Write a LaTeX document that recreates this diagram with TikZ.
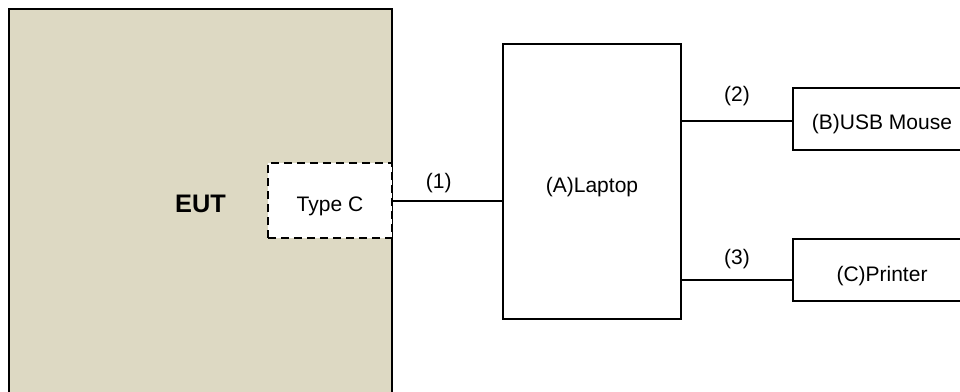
\documentclass[tikz,border=0pt]{standalone}
\usepackage{fontspec}
\setmainfont{Liberation Sans}
\usetikzlibrary{positioning}

\definecolor{eutfill}{HTML}{DDD9C3}

\begin{document}
\begin{tikzpicture}
[
    x = 0.75pt, y = -0.75pt,
    font = \fontsize{15.75}{19}\selectfont,
    box/.style      = {rectangle,
                       draw,
                       line width=1.5pt,
                       inner sep=0pt,
                       text height=16.5pt,
                       text depth=0pt},
    eutstyle/.style = {box,
                       fill=eutfill,
                       text height=, text depth=,
                       minimum width=287.25pt,
                       minimum height=292.5pt,
                       font=\fontsize{19}{22}\selectfont\bfseries},
    portstyle/.style = {box,
                       fill=white,
                       dash pattern=on 6pt off 3.75pt,
                       minimum width=93pt,
                       minimum height=56.25pt},
    devstyle/.style = {box,
                       minimum width=133.5pt,
                       minimum height=46.5pt},
    cable/.style    = {line width=1.5pt}
]

\useasboundingbox (0,0) rectangle (960,392);
\clip (0,0) rectangle (960,392);

\node (eut) [eutstyle] at (200.5,204) {
EUT
};

\node (typec) [portstyle, left=0pt of eut.east, yshift=2.6pt] {
Type C
};

\node (laptop) [box, minimum width=133.5pt, minimum height=206.25pt,
                right=81.75pt of typec, yshift=14.25pt] {
(A)Laptop
};

\node (mouse) [devstyle, right=82.5pt of laptop, yshift=46.9pt] {
(B)USB Mouse
};

\node (printer) [devstyle, below=65.25pt of mouse] {
(C)Printer
};

% cables with their numbers
\draw[cable] (typec.east) -- (typec.east -| laptop.west)
    node (n1) [pos=0.42, above=2pt] {(1)};
\draw[cable] ([yshift=-1.5pt]mouse.west -| laptop.east) -- ([yshift=-1.5pt]mouse.west)
    node (n2) [midway, above=7pt] {(2)};
\draw[cable] ([yshift=-7.5pt]printer.west -| laptop.east) -- ([yshift=-7.5pt]printer.west)
    node (n3) [midway, above=4.5pt] {(3)};

\end{tikzpicture}
\end{document}
